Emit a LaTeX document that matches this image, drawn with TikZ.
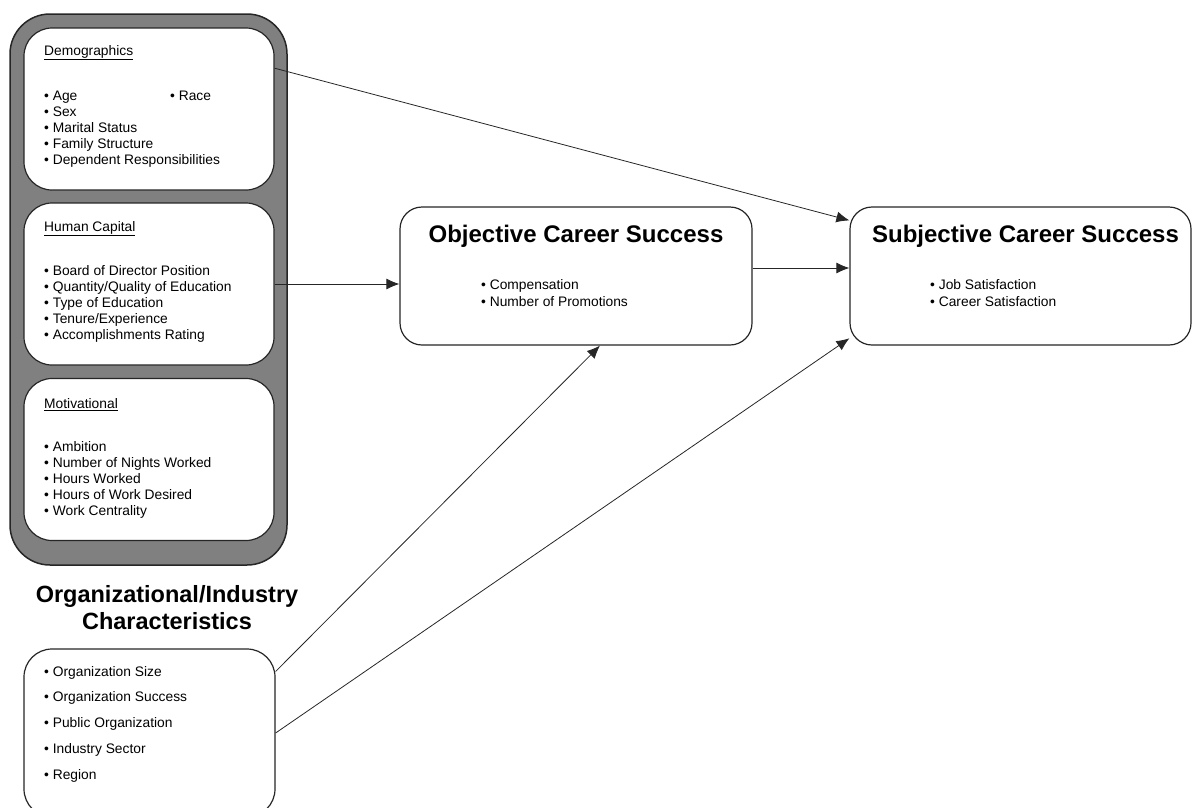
\documentclass[tikz,border=0pt]{standalone}
\usepackage{fontspec}
\setmainfont{Liberation Sans}
\usetikzlibrary{arrows.meta,positioning}

\begin{document}
\begin{tikzpicture}[x=1pt,y=-1pt]
\tikzset{panel/.style = {draw=black!85,line width=1.5pt,fill=black!50,rounded corners=40pt,minimum width=277pt,minimum height=551pt}}
\tikzset{group/.style = {draw=black!85,line width=1.2pt,fill=white,rounded corners=28pt,minimum width=250pt,minimum height=162pt}}
\tikzset{outcome/.style = {draw=black!85,line width=1.2pt,fill=white,rounded corners=22pt,minimum width=352pt,minimum height=138pt}}
\tikzset{items/.style = {anchor=north west,inner sep=0pt,align=left,font=\fontsize{13.8}{16}\selectfont}}
\tikzset{title/.style = {font=\fontsize{24}{27}\selectfont\bfseries,align=center}}
\tikzset{edge/.style = {-{Latex[length=13pt,width=11pt]},line width=0.8pt,black!85}}
\useasboundingbox (0,0) rectangle (1192,807);
% LEFT PANEL
\node[panel] (panel) at (148.5,289.5) {};
\node[group] (demo) at (149,109) {};
\node[group] (hc) at (149,284) {};
\node[group] (motiv) at (149,459.5) {};
\node[items] (demotext) at (44,45) {\underline{Demographics}\\[29pt]• Age\\• Sex\\• Marital Status\\• Family Structure\\• Dependent Responsibilities};
\node[items] (race) at (170,91) {• Race};
\node[items] (hctext) at (44,221) {\underline{Human Capital}\\[28pt]• Board of Director Position\\• Quantity/Quality of Education\\• Type of Education\\• Tenure/Experience\\• Accomplishments Rating};
\node[items] (motivtext) at (44,398) {\underline{Motivational}\\[27pt]• Ambition\\• Number of Nights Worked\\• Hours Worked\\• Hours of Work Desired\\• Work Centrality};
% ORGANIZATIONAL
\node[title,font=\fontsize{23.5}{27}\selectfont\bfseries] (orgtitle) at (167,608) {Organizational/Industry\\Characteristics};
\node[group,minimum width=251pt,minimum height=168pt] (org) at (149.5,733) {};
\node[items,font=\fontsize{13.8}{25.7}\selectfont] (orgtext) at (44,666) {• Organization Size\\• Organization Success\\• Public Organization\\• Industry Sector\\• Region};
% OUTCOMES
\node[outcome] (obj) at (576,276) {};
\node[title] (objtitle) at (576,236) {Objective Career Success};
\node[items,font=\fontsize{13.8}{17}\selectfont] (objtext) at (481,279) {• Compensation\\• Number of Promotions};
\node[outcome,minimum width=341pt] (subj) at (1020.5,276) {};
\node[title] (subjtitle) at (1025.5,236) {Subjective Career Success};
\node[items,font=\fontsize{13.8}{17}\selectfont] (subjtext) at (930,279) {• Job Satisfaction\\• Career Satisfaction};
% EDGES
\draw[edge] (demo.18) to (subj.162);
\draw[edge] (hc.east) to (hc.east -| obj.west);
\draw[edge] (obj.east |- 0,268) to (subj.west |- 0,268);
\draw[edge] (org.26) to (obj.-71);
\draw[edge] (org.east) to (subj.200);
\end{tikzpicture}
\end{document}
